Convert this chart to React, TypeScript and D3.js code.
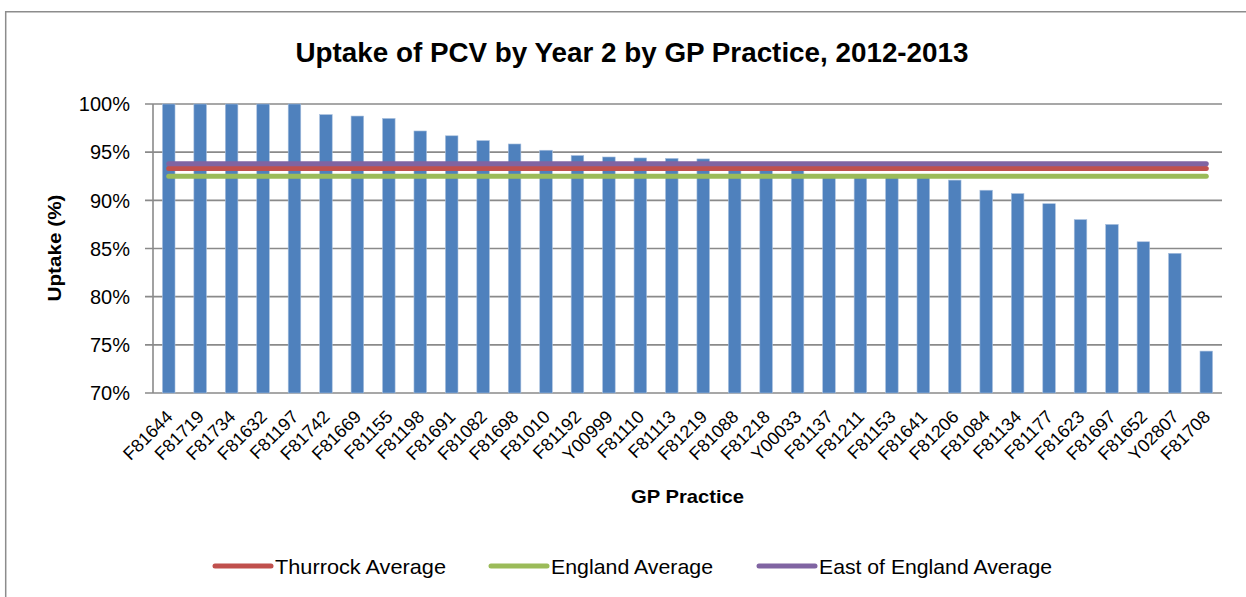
import React from "react";
import * as d3 from "d3";

const practices = [
  "F81644", "F81719", "F81734", "F81632", "F81197", "F81742", "F81669", "F81155",
  "F81198", "F81691", "F81082", "F81698", "F81010", "F81192", "Y00999", "F81110",
  "F81113", "F81219", "F81088", "F81218", "Y00033", "F81137", "F81211", "F81153",
  "F81641", "F81206", "F81084", "F81134", "F81177", "F81623", "F81697", "F81652",
  "Y02807", "F81708",
];
const uptake = [
  100, 100, 100, 100, 100, 98.9, 98.75, 98.5,
  97.2, 96.7, 96.2, 95.85, 95.2, 94.65, 94.5, 94.4,
  94.35, 94.3, 93.9, 93.8, 93.6, 92.6, 92.5, 92.45,
  92.35, 92.1, 91.05, 90.7, 89.65, 88.0, 87.5, 85.7,
  84.5, 74.35,
];
const averageNames = ["Thurrock Average", "England Average", "East of England Average"];
const averageValues = [93.3, 92.5, 93.8];
const averageColors = ["#C0504D", "#9BBB59", "#8064A2"];
const yTicks = [70, 75, 80, 85, 90, 95, 100];

const FONT = "'Liberation Sans', Arial, sans-serif";

export default function App() {
  const left = 153, right = 1222, top = 104, bottom = 393;
  const x = d3.scaleBand<string>().domain(practices).range([left, right]).padding(0);
  const y = d3.scaleLinear().domain([70, 100]).range([bottom, top]);
  const bw = x.bandwidth() / 2.5;
  const cx = (p: string) => (x(p) as number) + x.bandwidth() / 2;
  const firstC = cx(practices[0]);
  const lastC = cx(practices[practices.length - 1]);
  const legendLineX = [215, 491, 759];
  const legendTextW = [171, 162, 233];

  return (
    <svg
      width={1246}
      height={597}
      style={{ position: "absolute", left: 0, top: 0, background: "#fff" }}
      fontFamily={FONT}
    >
      <rect x={0} y={0} width={1246} height={597} fill="#fff" />
      <path d="M5.7,600 L5.7,11.7 L1260,11.7" fill="none" stroke="#8c8c8c" strokeWidth={1.5} />

      <text x={632} y={62} textAnchor="middle" fontSize={27} fontWeight="bold" textLength={673} lengthAdjust="spacingAndGlyphs" fill="#000">
        Uptake of PCV by Year 2 by GP Practice, 2012-2013
      </text>

      {yTicks.map((t) => (
        <g key={t}>
          <line x1={145} x2={right} y1={y(t)} y2={y(t)} stroke="#8a8a8a" strokeWidth={1.6} />
          <text x={130} y={y(t)} dy="0.36em" textAnchor="end" fontSize={20} fill="#000">
            {t}%
          </text>
        </g>
      ))}
      <line x1={left} x2={left} y1={top} y2={bottom} stroke="#8a8a8a" strokeWidth={1.6} />

      {practices.map((p, i) => (
        <rect
          key={p}
          x={cx(p) - bw / 2}
          y={y(uptake[i])}
          width={bw}
          height={bottom - y(uptake[i])}
          fill="#4F81BD"
          stroke="#a9c0de"
          strokeWidth={0.6}
        />
      ))}

      {averageValues.map((v, i) => (
        <line
          key={averageNames[i]}
          x1={firstC}
          x2={lastC}
          y1={y(v)}
          y2={y(v)}
          stroke={averageColors[i]}
          strokeWidth={5}
          strokeLinecap="round"
        />
      ))}

      {practices.map((p) => (
        <text
          key={p}
          transform={`translate(${cx(p) + 5},${418}) rotate(-45)`}
          textAnchor="end"
          fontSize={18}
          fill="#000"
        >
          {p}
        </text>
      ))}

      <text x={(left + right) / 2} y={503} textAnchor="middle" fontSize={19} fontWeight="bold" textLength={113} lengthAdjust="spacingAndGlyphs">
        GP Practice
      </text>
      <text transform={`translate(61,248) rotate(-90)`} textAnchor="middle" fontSize={19} fontWeight="bold" textLength={107} lengthAdjust="spacingAndGlyphs">
        Uptake (%)
      </text>

      {averageNames.map((n, i) => (
        <g key={n}>
          <line x1={legendLineX[i]} x2={legendLineX[i] + 56} y1={566} y2={566} stroke={averageColors[i]} strokeWidth={5} strokeLinecap="round" />
          <text x={legendLineX[i] + 60} y={566} dy="0.36em" fontSize={21} textLength={legendTextW[i]} lengthAdjust="spacingAndGlyphs">
            {n}
          </text>
        </g>
      ))}
    </svg>
  );
}
